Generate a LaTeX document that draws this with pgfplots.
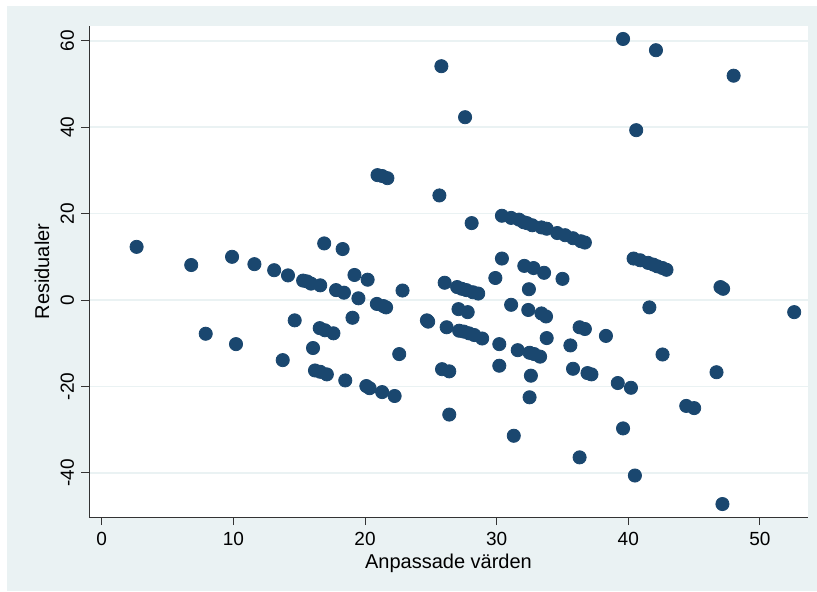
\documentclass[border=0pt]{standalone}
\usepackage{fontspec}
\setmainfont{Liberation Sans}
\usepackage{pgfplots}
\usepackage{pgfplotstable}
\pgfplotsset{compat=1.18}
\definecolor{stbg}{RGB}{234,242,243}
\definecolor{stnavy}{RGB}{26,71,111}
\pgfplotstableread{
x y
2.65 12.3
6.8 8.1
7.9 -7.8
9.9 10.0
10.2 -10.2
11.6 8.3
13.1 6.9
13.75 -13.9
14.15 5.7
14.66 -4.7
15.3 4.5
15.6 4.3
15.9 3.8
16.05 -11.1
16.2 -16.3
16.6 3.4
16.6 -16.6
16.56 -6.5
16.9 13.1
16.96 -7.0
17.1 -17.2
17.6 -7.7
17.8 2.3
18.3 11.8
18.4 1.7
18.5 -18.6
19.05 -4.1
19.2 5.8
19.5 0.4
20.1 -19.9
20.2 4.7
20.35 -20.4
20.9 -0.9
20.95 28.9
21.3 28.7
21.4 -1.4
21.3 -21.3
21.6 -1.7
21.7 28.2
22.25 -22.2
22.6 -12.5
22.85 2.2
24.7 -4.7
24.8 -5.0
25.65 24.2
25.8 54.1
25.85 -16.0
26.05 4.0
26.2 -6.3
26.4 -16.5
26.4 -26.5
27.0 3.0
27.1 -2.1
27.15 -7.1
27.35 2.6
27.5 -7.3
27.6 42.3
27.7 2.3
27.8 -2.8
27.9 -7.7
28.1 17.8
28.2 1.8
28.3 -8.1
28.6 1.5
28.9 -8.9
29.9 5.1
30.2 -10.2
30.2 -15.2
30.4 19.5
30.4 9.6
31.1 -1.1
31.1 19.0
31.3 -31.4
31.6 -11.6
31.7 18.6
32.05 18.0
32.1 7.9
32.3 17.8
32.4 -2.3
32.45 2.5
32.5 -12.2
32.6 -17.5
32.5 -22.5
32.7 17.3
32.8 7.4
32.85 -12.5
33.3 -13.1
33.4 -3.1
33.4 16.8
33.6 6.3
33.75 -3.8
33.8 16.5
33.8 -8.8
34.6 15.5
35.0 4.9
35.2 15.0
35.6 -10.5
35.8 14.3
35.8 -15.9
36.4 13.6
36.3 -6.3
36.3 -36.4
36.7 13.3
36.7 -6.7
36.9 -16.9
37.2 -17.2
38.3 -8.3
39.2 -19.2
39.6 60.4
39.6 -29.7
40.2 -20.3
40.4 9.6
40.6 39.3
40.5 -40.6
40.9 9.2
41.5 8.6
41.6 -1.7
41.9 8.2
42.1 57.8
42.2 7.8
42.6 7.4
42.6 -12.6
42.9 7.0
44.4 -24.5
45.0 -25.0
46.7 -16.7
47.0 3.0
47.2 2.6
47.15 -47.2
48.0 51.9
52.6 -2.8
}\resid
\begin{document}
\begin{tikzpicture}
\path[use as bounding box] (-44.5pt,-37pt) rectangle (364pt,258.5pt);
\fill[stbg] (-41pt,-37pt) rectangle (364pt,255.5pt);
\begin{axis}[
  at={(0pt,0pt)}, anchor=south west,
  scale only axis, width=359.5pt, height=245.5pt,
  xmin=-0.965, xmax=53.65, ymin=-50.2, ymax=63.4,
  axis x line*=bottom, axis y line*=left,
  axis line style={line width=0.5pt, color=black!80},
  tick align=outside, major tick length=4pt,
  tick style={line width=0.5pt, color=black!80},
  xtick={0,10,...,50}, ytick={-40,-20,...,60},
  minor tick num=0,
  ymajorgrids, grid style={stbg, line width=0.9pt},
  axis background/.style={fill=white},
  ticklabel style={font=\fontsize{9.5}{11}\selectfont},
  yticklabel style={rotate=90, anchor=south},
  /pgf/number format/assume math mode=true,
  xlabel={Anpassade värden}, ylabel={Residualer},
  label style={font=\fontsize{10}{12}\selectfont},
  xlabel style={at={(axis description cs:0.5,0)}, anchor=base, yshift=-25.5pt},
  ylabel style={at={(axis description cs:0,0.5)}, anchor=center, yshift=23.5pt},
  clip=false,
]
\addplot[only marks, mark=*, mark size=3.3pt, color=stnavy, mark options={draw=stnavy, fill=stnavy}] table[x=x, y=y] {\resid};
\end{axis}
\end{tikzpicture}
\end{document}
